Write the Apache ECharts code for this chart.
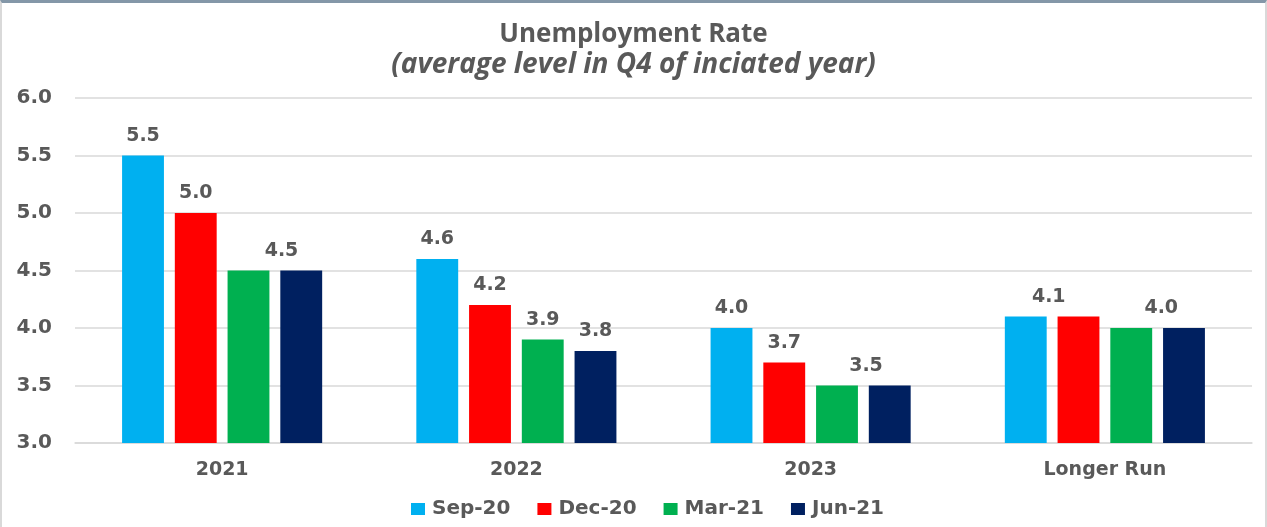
<!DOCTYPE html>
<html>
<head>
<meta charset="utf-8">
<script src="https://cdn.jsdelivr.net/npm/echarts@6/dist/echarts.min.js"></script>
<style>
  html, body { margin: 0; padding: 0; background: #fff; }
  #frame { position: absolute; left: 0; top: 0; width: 1267px; height: 527px; box-sizing: border-box;
           border-top: 3px solid #8497a8; border-left: 2px solid #d9d9d9; border-right: 2px solid #d9d9d9; }
  #chart { width: 1267px; height: 527px; }
</style>
</head>
<body>
<div id="chart"></div>
<div id="frame"></div>
<script>
const categories = ['2021', '2022', '2023', 'Longer Run'];
const seriesNames = ['Sep-20', 'Dec-20', 'Mar-21', 'Jun-21'];
const sep20 = [5.5, 4.6, 4.0, 4.1];
const dec20 = [5.0, 4.2, 3.7, 4.1];
const mar21 = [4.5, 3.9, 3.5, 4.0];
const jun21 = [4.5, 3.8, 3.5, 4.0];
const yTicks = [3.0, 3.5, 4.0, 4.5, 5.0, 5.5, 6.0];

const colors = ['#00B0F0', '#FF0000', '#00B050', '#002060'];
const values = [sep20, dec20, mar21, jun21];

// Which value labels are drawn; a shared label for two equal bars sits between them.
// key: "series,category" -> horizontal shift in px
const labelPlacement = {
  '0,0': 0, '1,0': 0, '2,0': 33,
  '0,1': 0, '1,1': 0, '2,1': 0, '3,1': 0,
  '0,2': 0, '1,2': 0, '2,2': 29,
  '0,3': 23, '2,3': 30
};

const labelFont = { fontFamily: 'DejaVu Sans', fontWeight: 'bold', color: '#595959' };

const series = seriesNames.map((name, s) => ({
  name,
  type: 'bar',
  barGap: '26%',
  barCategoryGap: '32%',
  itemStyle: { color: colors[s] },
  data: values[s].map((v, c) => {
    const key = s + ',' + c;
    const shown = key in labelPlacement;
    return {
      value: v,
      label: {
        show: shown,
        position: 'top',
        distance: 10,
        offset: [shown ? labelPlacement[key] : 0, 0],
        formatter: p => p.value.toFixed(1),
        fontSize: 19,
        ...labelFont
      }
    };
  })
}));

const chart = echarts.init(document.getElementById('chart'));
chart.setOption({
  animation: false,
  backgroundColor: '#fff',
  title: {
    text: 'Unemployment Rate',
    subtext: '(average level in Q4 of inciated year)',
    left: 'center',
    top: 17,
    itemGap: 3,
    textStyle: { fontFamily: 'Open Sans', fontWeight: 'bold', fontSize: 26, color: '#595959' },
    subtextStyle: { fontFamily: 'Open Sans', fontWeight: 'bold', fontStyle: 'italic', fontSize: 28, color: '#595959' }
  },
  legend: {
    data: seriesNames,
    bottom: 3,
    left: 406,
    itemWidth: 14,
    itemHeight: 12,
    itemGap: 27,
    icon: 'rect',
    textStyle: { fontSize: 20, ...labelFont, padding: [0, 0, 0, 2] }
  },
  grid: { left: 75, right: 15, top: 98, bottom: 84, containLabel: false },
  xAxis: {
    type: 'category',
    data: categories,
    axisTick: { show: false },
    axisLine: { lineStyle: { color: '#d9d9d9', width: 1.5 } },
    axisLabel: { fontSize: 19, margin: 18, ...labelFont }
  },
  yAxis: {
    type: 'value',
    min: yTicks[0],
    max: yTicks[yTicks.length - 1],
    interval: 0.5,
    axisLine: { show: false },
    axisTick: { show: false },
    splitLine: { lineStyle: { color: '#d9d9d9', width: 1.5 } },
    axisLabel: { fontSize: 20, margin: 23, formatter: v => v.toFixed(1), ...labelFont }
  },
  series
});
</script>
</body>
</html>
